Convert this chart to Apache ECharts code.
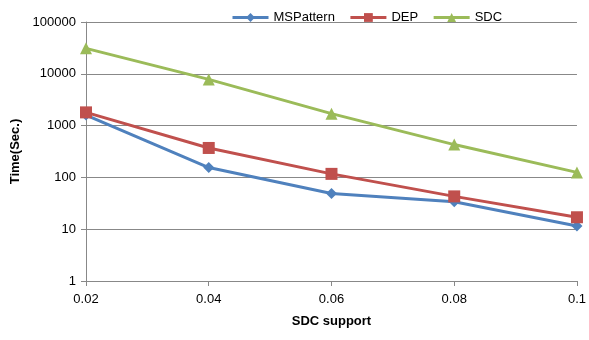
<!DOCTYPE html>
<html>
<head>
<meta charset="utf-8">
<script src="https://cdn.jsdelivr.net/npm/echarts@6/dist/echarts.min.js"></script>
<style>
  html, body { margin: 0; padding: 0; background: #fff; }
  #container { width: 589px; height: 340px; }
</style>
</head>
<body>
<div id="container"></div>
<script>
var supports = ['0.02', '0.04', '0.06', '0.08', '0.1'];
var msPattern = [1600, 155, 49, 34, 11.5];
var dep = [1800, 370, 117, 43, 17];
var sdc = [31000, 7800, 1700, 430, 125];

var myChart = echarts.init(document.getElementById('container'));
var font = 'Liberation Sans';

function line(name, data, color, symbol, size) {
    return {
        name: name,
        type: 'line',
        data: data,
        symbol: symbol,
        symbolSize: size,
        lineStyle: { color: color, width: 3 },
        itemStyle: { color: color },
        animation: false
    };
}

var option = {
    legend: {
        top: 6,
        left: 226,
        itemGap: 14,
        itemWidth: 36,
        itemHeight: 11,
        lineStyle: { width: 3 },
        textStyle: { fontFamily: font, fontSize: 13, color: '#000' },
        data: ['MSPattern', 'DEP', 'SDC']
    },
    grid: { left: 86, right: 10, top: 22, bottom: 59 },
    xAxis: {
        type: 'category',
        data: supports,
        boundaryGap: false,
        name: 'SDC support',
        nameLocation: 'middle',
        nameGap: 34,
        nameTextStyle: { fontFamily: font, fontSize: 13, fontWeight: 'bold', color: '#000' },
        axisLine: { lineStyle: { color: '#888', width: 1 } },
        axisTick: { show: true, length: 5, lineStyle: { color: '#888' } },
        axisLabel: { fontFamily: font, fontSize: 13, color: '#000', margin: 12 },
        splitLine: { show: false }
    },
    yAxis: {
        type: 'log',
        logBase: 10,
        min: 1,
        max: 100000,
        name: 'Time(Sec.)',
        nameLocation: 'middle',
        nameGap: 60,
        nameTextStyle: { fontFamily: font, fontSize: 13, fontWeight: 'bold', color: '#000' },
        axisLine: { show: true, lineStyle: { color: '#888', width: 1 } },
        axisTick: { show: true, length: 5, lineStyle: { color: '#888' } },
        axisLabel: {
            fontFamily: font, fontSize: 13, color: '#000', margin: 10,
            formatter: function (v) { return String(Math.round(v)); }
        },
        splitLine: { lineStyle: { color: '#888', width: 1 } }
    },
    series: [
        line('MSPattern', msPattern, '#4F81BD', 'diamond', 11),
        line('DEP', dep, '#C0504D', 'rect', 12),
        line('SDC', sdc, '#9BBB59', 'triangle', 12)
    ]
};
myChart.setOption(option, true);
</script>
</body>
</html>
